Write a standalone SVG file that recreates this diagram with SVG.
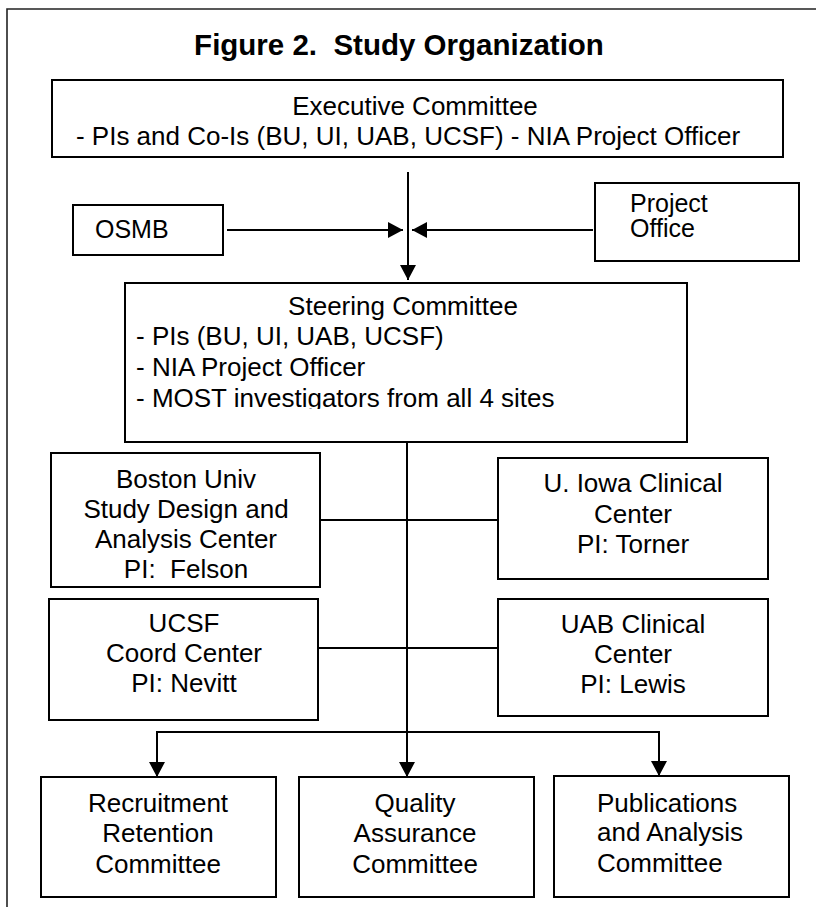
<svg xmlns="http://www.w3.org/2000/svg" width="816" height="907" viewBox="0 0 816 907">
<style>
  .box { fill: #ffffff; stroke: #000000; stroke-width: 2; }
  .t { font-family: "Liberation Sans", Arial, sans-serif; font-size: 26px; fill: #000000; }
  .c { text-anchor: middle; }
  .title { font-family: "Liberation Sans", Arial, sans-serif; font-size: 29.5px; font-weight: bold; fill: #000000; text-anchor: middle; }
  .ln { fill: none; stroke: #000000; stroke-width: 2; }
  .frame { fill: none; stroke: #222222; stroke-width: 1.6; }
</style>
<defs>
  <marker id="arr" viewBox="0 0 15 16" refX="15" refY="8" markerWidth="15" markerHeight="16" orient="auto" markerUnits="userSpaceOnUse">
    <path d="M0,0 L15,8 L0,16 Z" fill="#000000"/>
  </marker>
  <clipPath id="clipSteer">
    <rect x="125" y="283" width="562" height="126"/>
  </clipPath>
</defs>
<rect width="816" height="907" fill="#ffffff"/>
<path class="frame" d="M7,907 L7,9 L816,9"/>
<text class="title" x="399" y="55">Figure 2.&#160; Study Organization</text>

<g id="connectors">
  <line class="ln" x1="408" y1="172" x2="408" y2="280" marker-end="url(#arr)"/>
  <line class="ln" x1="227" y1="230" x2="403" y2="230" marker-end="url(#arr)"/>
  <line class="ln" x1="593" y1="230" x2="412" y2="230" marker-end="url(#arr)"/>
  <line class="ln" x1="407" y1="442" x2="407" y2="777" marker-end="url(#arr)"/>
  <line class="ln" x1="320" y1="520" x2="498" y2="520"/>
  <line class="ln" x1="318" y1="648" x2="498" y2="648"/>
  <line class="ln" x1="157" y1="732" x2="659" y2="732"/>
  <line class="ln" x1="157" y1="731" x2="157" y2="777" marker-end="url(#arr)"/>
  <line class="ln" x1="659" y1="731" x2="659" y2="776" marker-end="url(#arr)"/>
</g>

<g id="executive">
  <rect class="box" x="52" y="80" width="731" height="77"/>
  <text class="t c" x="415" y="115">Executive Committee</text>
  <text class="t c" x="408" y="145">- PIs and Co-Is (BU, UI, UAB, UCSF) - NIA Project Officer</text>
</g>

<g id="osmb">
  <rect class="box" x="73" y="205" width="150" height="50"/>
  <text class="t" x="95" y="238" style="font-size:25px">OSMB</text>
</g>

<g id="project-office">
  <rect class="box" x="595" y="183" width="204" height="78"/>
  <text class="t" x="630" y="212" style="font-size:25px">Project</text>
  <text class="t" x="630" y="237" style="font-size:25px">Office</text>
</g>

<g id="steering">
  <rect class="box" x="125" y="283" width="562" height="159"/>
  <text class="t c" x="403" y="315">Steering Committee</text>
  <text class="t" x="136" y="345">- PIs (BU, UI, UAB, UCSF)</text>
  <text class="t" x="136" y="376">- NIA Project Officer</text>
  <text class="t" x="136" y="407" clip-path="url(#clipSteer)">- MOST investigators from all 4 sites</text>
</g>

<g id="boston">
  <rect class="box" x="51" y="453" width="269" height="134"/>
  <text class="t c" x="186" y="488">Boston Univ</text>
  <text class="t c" x="186" y="518">Study Design and</text>
  <text class="t c" x="186" y="548">Analysis Center</text>
  <text class="t c" x="186" y="578">PI:&#160; Felson</text>
</g>

<g id="iowa">
  <rect class="box" x="498" y="458" width="270" height="121"/>
  <text class="t c" x="633" y="492">U. Iowa Clinical</text>
  <text class="t c" x="633" y="523">Center</text>
  <text class="t c" x="633" y="553">PI: Torner</text>
</g>

<g id="ucsf">
  <rect class="box" x="49" y="599" width="269" height="121"/>
  <text class="t c" x="184" y="632">UCSF</text>
  <text class="t c" x="184" y="662">Coord Center</text>
  <text class="t c" x="184" y="692">PI: Nevitt</text>
</g>

<g id="uab">
  <rect class="box" x="498" y="599" width="270" height="117"/>
  <text class="t c" x="633" y="633">UAB Clinical</text>
  <text class="t c" x="633" y="663">Center</text>
  <text class="t c" x="633" y="693">PI: Lewis</text>
</g>

<g id="recruitment">
  <rect class="box" x="41" y="777" width="235" height="120"/>
  <text class="t c" x="158" y="812">Recruitment</text>
  <text class="t c" x="158" y="842">Retention</text>
  <text class="t c" x="158" y="873">Committee</text>
</g>

<g id="quality">
  <rect class="box" x="299" y="777" width="235" height="120"/>
  <text class="t c" x="415" y="812">Quality</text>
  <text class="t c" x="415" y="842">Assurance</text>
  <text class="t c" x="415" y="873">Committee</text>
</g>

<g id="publications">
  <rect class="box" x="554" y="776" width="235" height="121"/>
  <text class="t" x="597" y="812">Publications</text>
  <text class="t" x="597" y="841">and Analysis</text>
  <text class="t" x="597" y="872">Committee</text>
</g>
</svg>
